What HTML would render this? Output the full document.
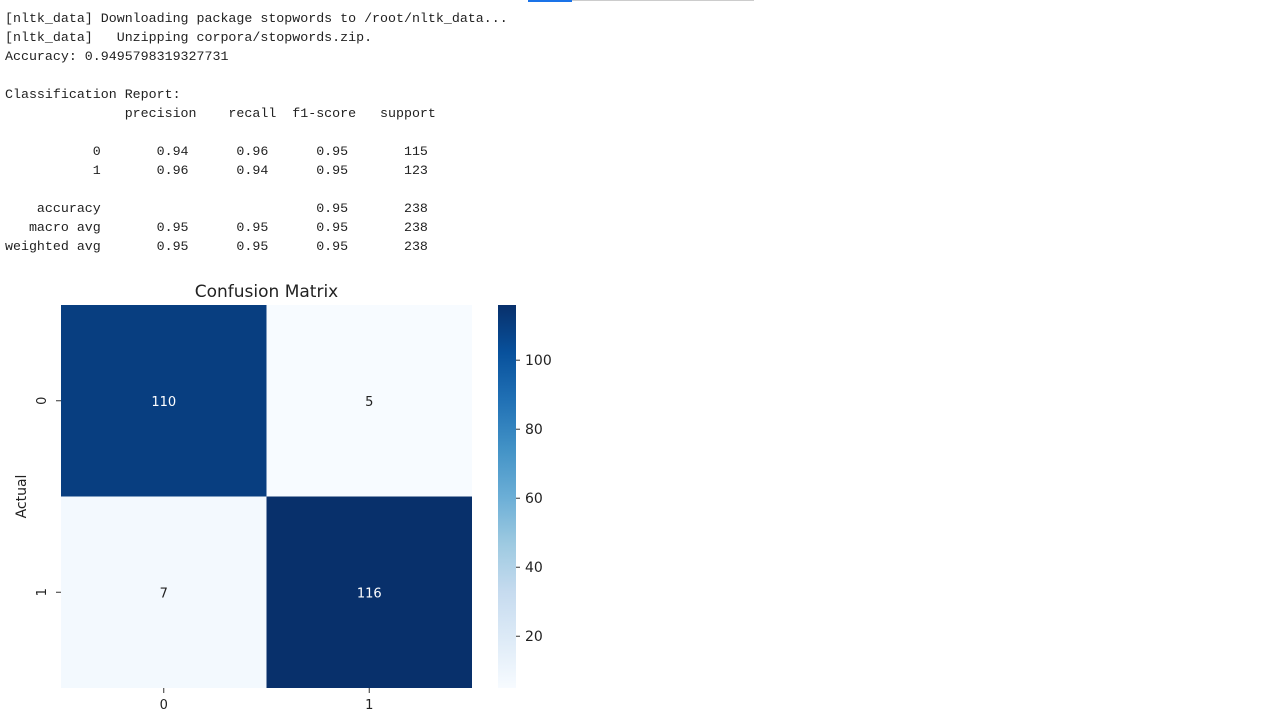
<!DOCTYPE html>
<html><head><meta charset="utf-8"><style>
html,body{margin:0;padding:0;background:#fff;width:1280px;height:719px;overflow:hidden;position:relative}
pre{position:absolute;left:5px;top:9px;margin:0;font-family:"Liberation Mono",monospace;font-size:13.3px;line-height:19px;color:#222}
svg{position:absolute;left:0;top:0}
</style></head><body>
<div style="position:absolute;left:528px;top:0;width:44px;height:2px;background:#1a73e8"></div>
<div style="position:absolute;left:572px;top:0;width:182px;height:1px;background:#ccc"></div>
<pre>[nltk_data] Downloading package stopwords to /root/nltk_data...
[nltk_data]   Unzipping corpora/stopwords.zip.
Accuracy: 0.9495798319327731

Classification Report:
               precision    recall  f1-score   support

           0       0.94      0.96      0.95       115
           1       0.96      0.94      0.95       123

    accuracy                           0.95       238
   macro avg       0.95      0.95      0.95       238
weighted avg       0.95      0.95      0.95       238</pre>
<svg id="chart" width="1280" height="719" font-family="'DejaVu Sans','Liberation Sans',sans-serif">
<defs><linearGradient id="blues" x1="0" y1="1" x2="0" y2="0">
<stop offset="0" stop-color="#f7fbff"/><stop offset="0.125" stop-color="#deebf7"/><stop offset="0.25" stop-color="#c6dbef"/><stop offset="0.375" stop-color="#9ecae1"/><stop offset="0.5" stop-color="#6baed6"/><stop offset="0.625" stop-color="#4292c6"/><stop offset="0.75" stop-color="#2171b5"/><stop offset="0.875" stop-color="#08519c"/><stop offset="1" stop-color="#08306b"/>
</linearGradient></defs>
</svg>
<script>
const rowLabels=["0","1"];
const colLabels=["0","1"];
const values=[[110,5],[7,116]];
const cbTicks=[20,40,60,80,100];
const vmin=5, vmax=116;

const svg=document.getElementById('chart');
const NS="http://www.w3.org/2000/svg";
const X0=61,X1=472,Y0=305,Y1=688,CBX=498,CBW=18;
function mk(t,a,txt){const e=document.createElementNS(NS,t);for(const k in a)e.setAttribute(k,a[k]);if(txt!=null)e.textContent=txt;svg.appendChild(e);return e;}
const cw=(X1-X0)/colLabels.length, rh=(Y1-Y0)/rowLabels.length;
const stops=[[0,[247,251,255]],[0.125,[222,235,247]],[0.25,[198,219,239]],[0.375,[158,202,225]],[0.5,[107,174,214]],[0.625,[66,146,198]],[0.75,[33,113,181]],[0.875,[8,81,156]],[1,[8,48,107]]];
function color(v){let t=(v-vmin)/(vmax-vmin);t=Math.max(0,Math.min(1,t));for(let i=1;i<stops.length;i++){if(t<=stops[i][0]){const a=stops[i-1],b=stops[i];const f=(t-a[0])/(b[0]-a[0]);const c=a[1].map((x,j)=>Math.round(x+(b[1][j]-x)*f));return `rgb(${c})`;}}return 'rgb(8,48,107)';}
function cbY(v){return Y1-(v-vmin)/(vmax-vmin)*(Y1-Y0);}

let e=mk('text',{x:(X0+X1)/2,y:297,'text-anchor':'middle','font-size':17,fill:'#222'},'Confusion Matrix');



for(let r=0;r<rowLabels.length;r++){for(let c=0;c<colLabels.length;c++){
  const v=values[r][c];
  const rc=mk('rect',{x:X0+c*cw,y:Y0+r*rh,width:cw,height:rh,fill:color(v)});
  
  
  const t=mk('text',{x:X0+c*cw+cw/2,y:Y0+r*rh+rh/2+5,'text-anchor':'middle','font-size':13,fill:v>(vmin+vmax)/2?'#fff':'#222'},String(v));
  
  
}}
rowLabels.forEach((l,i)=>{
  const y=Y0+i*rh+rh/2;
  mk('line',{x1:X0-5,x2:X0,y1:y,y2:y,stroke:'#333','stroke-width':1});
  const t=mk('text',{x:0,y:0,transform:`translate(46,${y}) rotate(-90)`,'text-anchor':'middle','font-size':13,fill:'#222'},l);
  
  
});
colLabels.forEach((l,i)=>{
  const x=X0+i*cw+cw/2;
  mk('line',{x1:x,x2:x,y1:Y1,y2:Y1+5,stroke:'#333','stroke-width':1});
  const t=mk('text',{x:x,y:709,'text-anchor':'middle','font-size':13,fill:'#222'},l);
  
  
});
e=mk('text',{x:0,y:0,transform:`translate(26,${(Y0+Y1)/2}) rotate(-90)`,'text-anchor':'middle','font-size':14,fill:'#222'},'Actual');


e=mk('text',{x:(X0+X1)/2,y:730,'text-anchor':'middle','font-size':14,fill:'#222'},'Predicted');



e=mk('rect',{x:CBX,y:Y0,width:CBW,height:Y1-Y0,fill:'url(#blues)'});


cbTicks.forEach(v=>{
  const y=cbY(v);
  mk('line',{x1:CBX+CBW,x2:CBX+CBW+4,y1:y,y2:y,stroke:'#333','stroke-width':1});
  const t=mk('text',{x:CBX+CBW+9,y:y+5,'font-size':14,fill:'#222'},String(v));
  
  
});
</script>
</body></html>
